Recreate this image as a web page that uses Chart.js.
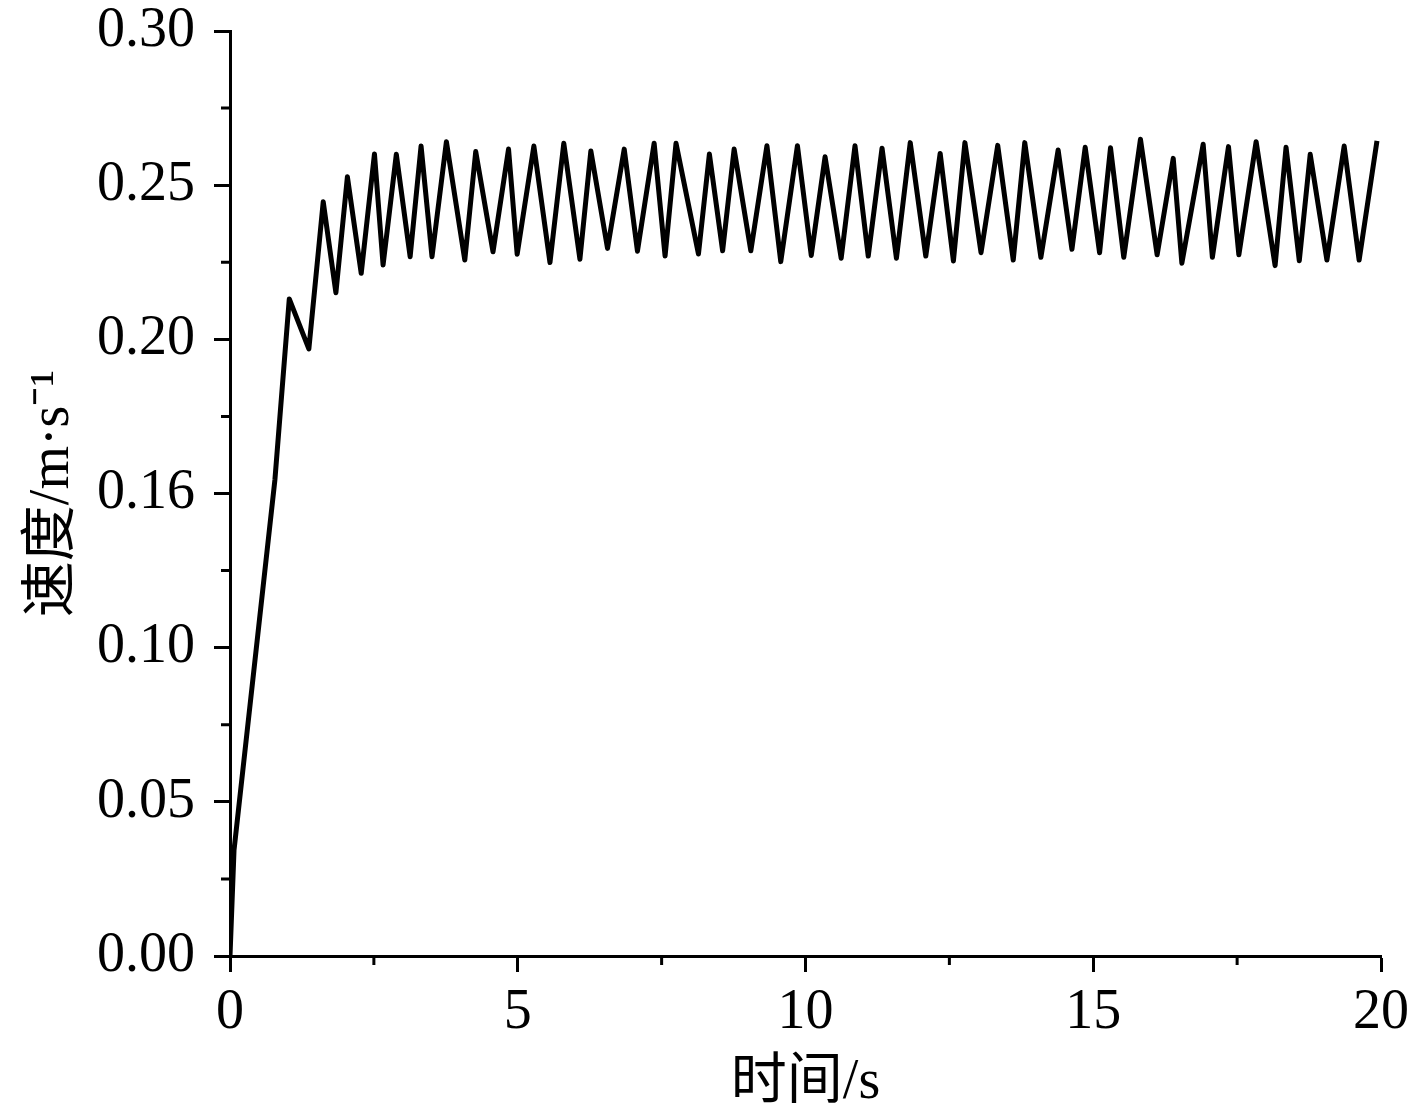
<!DOCTYPE html>
<html>
<head>
<meta charset="utf-8">
<script src="https://cdn.jsdelivr.net/npm/chart.js@4.4.1/dist/chart.umd.min.js"></script>
<style>
  html, body { margin: 0; padding: 0; background: #fff; }
  #wrap { width: 1417px; height: 1103px; }
</style>
</head>
<body>
<div id="wrap"><canvas id="speedChart" width="1417" height="1103"></canvas></div>
<script>
// tiempo (s) y velocidad (m/s)
var timeValues = [0, 0.07, 0.78, 1.03, 1.37, 1.62, 1.84, 2.04, 2.28, 2.51, 2.66, 2.89, 3.13, 3.32, 3.51,
    3.76, 4.08, 4.27, 4.57, 4.84, 4.99, 5.28, 5.56, 5.80, 6.08, 6.27, 6.56, 6.85, 7.08, 7.37, 7.56,
    7.75, 8.14, 8.33, 8.56, 8.76, 9.05, 9.33, 9.57, 9.86, 10.10, 10.34, 10.62, 10.86, 11.09, 11.33,
    11.58, 11.82, 12.09, 12.34, 12.57, 12.77, 13.05, 13.34, 13.61, 13.81, 14.09, 14.39, 14.63, 14.86,
    15.11, 15.30, 15.53, 15.82, 16.11, 16.39, 16.54, 16.91, 17.07, 17.35, 17.53, 17.83, 18.16, 18.35,
    18.58, 18.77, 19.06, 19.36, 19.62, 19.93];
var speedValues = [0, 0.0344, 0.1544, 0.2131, 0.1969, 0.2446, 0.2151, 0.2527, 0.2214, 0.2601, 0.2241,
    0.2600, 0.2268, 0.2627, 0.2268, 0.2641, 0.2257, 0.2609, 0.2284, 0.2617, 0.2276, 0.2627, 0.2249,
    0.2636, 0.2260, 0.2611, 0.2295, 0.2617, 0.2286, 0.2636, 0.2270, 0.2636, 0.2277, 0.2601, 0.2287,
    0.2617, 0.2287, 0.2628, 0.2252, 0.2628, 0.2272, 0.2592, 0.2263, 0.2628, 0.2270, 0.2620, 0.2263,
    0.2638, 0.2270, 0.2603, 0.2254, 0.2638, 0.2281, 0.2629, 0.2257, 0.2638, 0.2266, 0.2614, 0.2292,
    0.2623, 0.2281, 0.2621, 0.2266, 0.2649, 0.2274, 0.2587, 0.2247, 0.2633, 0.2266, 0.2625, 0.2274,
    0.2641, 0.2239, 0.2623, 0.2255, 0.2600, 0.2257, 0.2627, 0.2257, 0.2644];
var yTickLabels = ['0.00', '0.05', '0.10', '0.16', '0.20', '0.25', '0.30'];
var xTickLabels = ['0', '5', '10', '15', '20'];
var yMinorTicks = [0.025, 0.075, 0.125, 0.175, 0.225, 0.275];
var xMinorTicks = [2.5, 7.5, 12.5, 17.5];

var FONT = "'Liberation Serif', 'Times New Roman', 'Noto Sans CJK SC', serif";

// ticks menores (Chart.js no los trae)
var minorTicks = {
    id: 'minorTicks',
    afterDraw: function (chart) {
        var ctx = chart.ctx, a = chart.chartArea;
        var xs = chart.scales.x, ys = chart.scales.y;
        ctx.save();
        ctx.strokeStyle = '#000';
        ctx.lineWidth = 3;
        ctx.beginPath();
        yMinorTicks.forEach(function (v) {
            var py = ys.getPixelForValue(v);
            ctx.moveTo(a.left - 9, py);
            ctx.lineTo(a.left, py);
        });
        xMinorTicks.forEach(function (v) {
            var px = xs.getPixelForValue(v);
            ctx.moveTo(px, a.bottom);
            ctx.lineTo(px, a.bottom + 9);
        });
        ctx.stroke();
        ctx.restore();
    }
};

var ctx = document.getElementById('speedChart').getContext('2d');
var speedChart = new Chart(ctx, {
    type: 'line',
    data: {
        datasets: [{
            data: timeValues.map(function (t, i) { return {x: t, y: speedValues[i]}; }),
            borderColor: '#000',
            borderWidth: 5,
            borderJoinStyle: 'round',
            pointRadius: 0,
            tension: 0,
            fill: false
        }]
    },
    options: {
        responsive: false,
        animation: false,
        layout: { padding: { top: 31, right: 36, left: 0, bottom: 0 } },
        plugins: { legend: { display: false }, tooltip: { enabled: false } },
        scales: {
            x: {
                type: 'linear',
                min: 0, max: 20,
                border: { display: true, color: '#000', width: 3 },
                grid: { drawOnChartArea: false, drawTicks: true, tickLength: 16, tickWidth: 3, tickColor: '#000' },
                ticks: {
                    stepSize: 5, padding: 8, color: '#000', maxRotation: 0,
                    font: { family: FONT, size: 56 },
                    callback: function (v, i) { return xTickLabels[i]; }
                },
                title: {
                    display: true, text: '时间/s', color: '#000',
                    font: { family: FONT, size: 56, lineHeight: 0.72 },
                    padding: { top: 0, bottom: 0 }
                },
                afterFit: function (s) {
                    s.height = 147;
                    s.paddingLeft = 0;
                    s.paddingRight = 0;
                }
            },
            y: {
                type: 'linear',
                min: 0, max: 0.30,
                border: { display: true, color: '#000', width: 3 },
                grid: { drawOnChartArea: false, drawTicks: true, tickLength: 16, tickWidth: 3, tickColor: '#000' },
                ticks: {
                    stepSize: 0.05, padding: 19, color: '#000',
                    font: { family: FONT, size: 56 },
                    callback: function (v, i) { return yTickLabels[i]; }
                },
                title: {
                    display: true, text: '速度/m·s⁻¹', color: '#000',
                    font: { family: FONT, size: 56, lineHeight: 1.2 },
                    padding: { top: 20, bottom: 0 }
                },
                afterFit: function (s) {
                    s.width = 230;
                    s.paddingTop = 0;
                    s.paddingBottom = 0;
                }
            }
        }
    },
    plugins: [minorTicks]
});
</script>
</body>
</html>
